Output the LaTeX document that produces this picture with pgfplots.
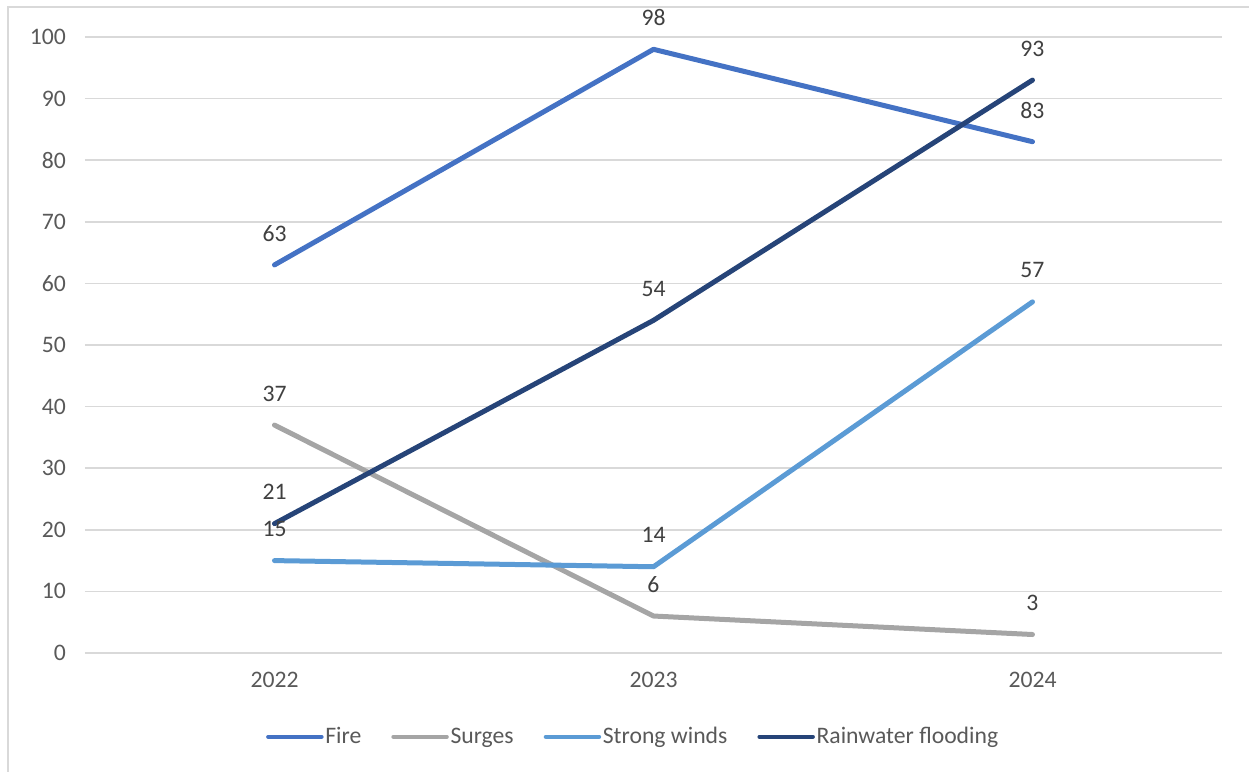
\documentclass[border=0pt]{standalone}
\usepackage{pgfplots}
\pgfplotsset{compat=1.18}
\usepackage{fontspec}
\setmainfont{Carlito}
\definecolor{cFire}{HTML}{4472C4}
\definecolor{cSurge}{HTML}{A5A5A5}
\definecolor{cWind}{HTML}{5B9BD5}
\definecolor{cRain}{HTML}{264478}
\definecolor{cGrid}{HTML}{D9D9D9}
\definecolor{cText}{HTML}{595959}
\definecolor{cLab}{HTML}{404040}
\begin{document}
\begin{tikzpicture}[x=0.6pt,y=0.6pt]
\useasboundingbox (0,0) rectangle (1249,772);
\draw[cGrid, line width=1pt] (8,-10) -- (8,765) -- (1260,765);
\begin{axis}[
  at={(51pt,71.4pt)}, anchor=south west,
  scale only axis, width=682.2pt, height=369.6pt,
  xmin=-0.5, xmax=2.5, ymin=0, ymax=100,
  xtick={0,1,2}, xticklabels={2022,2023,2024},
  ytick={0,10,...,100},
  axis line style={draw=none},
  tick style={draw=none},
  ymajorgrids, grid style={cGrid, line width=0.9pt},
  font=\fontsize{14.2}{16}\selectfont,
  tick label style={text=cText},
  /pgf/number format/assume math mode=true,
  yticklabel style={xshift=-8pt},
  xticklabel style={yshift=-8pt},
  every axis plot/.append style={line width=3pt, line join=round, line cap=round, mark=none},
  nodes near coords,
  every node near coord/.append style={anchor=center, yshift=19pt, text=cLab, font=\fontsize{14.2}{16}\selectfont},
  legend columns=4,
  legend style={at={(0.482,-0.136)}, anchor=center, draw=none, fill=none,
    font=\fontsize{14.2}{16}\selectfont, text=cText,
    nodes={inner xsep=1pt},
    /tikz/every odd column/.append style={column sep=0pt},
    /tikz/every even column/.append style={column sep=17pt}},
  legend image code/.code={\draw[#1, line width=2.5pt, line cap=round] (0pt,0pt) -- (32pt,0pt);},
  legend cell align=left,
]
\addplot[cFire] coordinates {(0,63) (1,98) (2,83)};
\addlegendentry{Fire}
\addplot[cSurge] coordinates {(0,37) (1,6) (2,3)};
\addlegendentry{Surges}
\addplot[cWind] coordinates {(0,15) (1,14) (2,57)};
\addlegendentry{Strong winds}
\addplot[cRain] coordinates {(0,21) (1,54) (2,93)};
\addlegendentry{Rainwater flooding}
\end{axis}
\end{tikzpicture}
\end{document}
